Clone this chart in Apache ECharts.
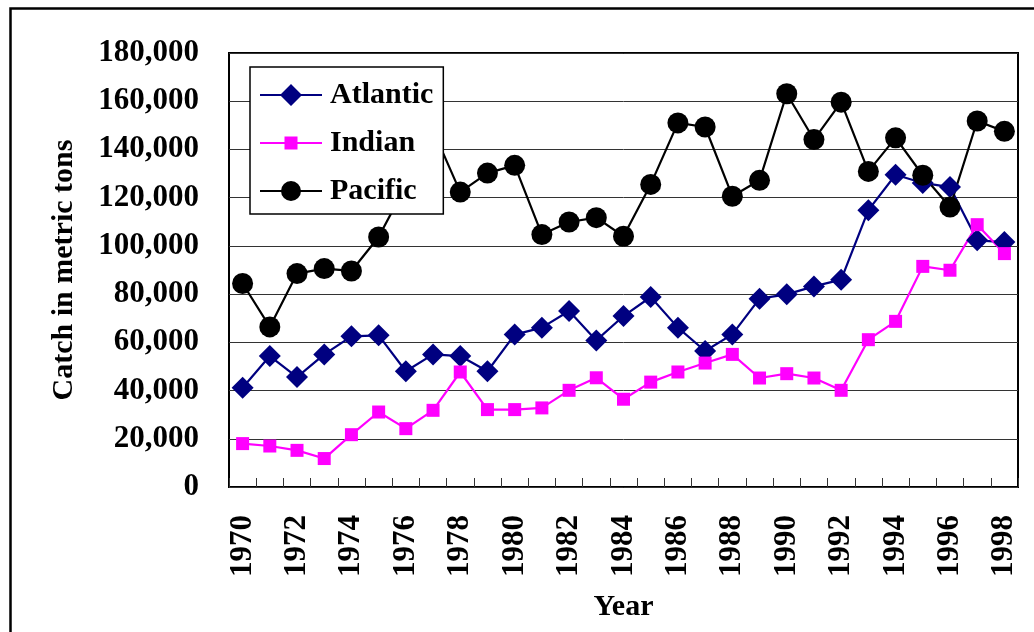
<!DOCTYPE html>
<html>
<head>
<meta charset="utf-8">
<script src="https://cdn.jsdelivr.net/npm/echarts@6/dist/echarts.min.js"></script>
<style>
html,body{margin:0;padding:0;background:#fff;}
#chart{width:1034px;height:632px;}
</style>
</head>
<body>
<div id="chart"></div>
<script>
const years = ['1970','1971','1972','1973','1974','1975','1976','1977','1978','1979','1980','1981','1982','1983','1984','1985','1986','1987','1988','1989','1990','1991','1992','1993','1994','1995','1996','1997','1998'];
const atlantic = [41200,54300,45600,55000,62500,62900,48000,55000,54300,48000,63200,66100,73000,60800,70900,78800,66100,56400,63300,78100,79900,83200,86000,114800,129500,126100,124400,102300,101600];
const indian = [18000,17000,15200,11800,21700,31100,24200,31800,47700,32100,32100,32800,40100,45300,36400,43500,47700,51400,55000,45200,47000,45200,40100,61100,68700,91500,89900,108800,96800];
const pacific = [84400,66400,88500,90600,89600,103700,125000,148000,122300,130200,133400,104700,109900,111700,104000,125500,151000,149300,120600,127200,163100,144100,159600,130900,144800,129300,116100,151800,147500];
const yTicks = [0,20000,40000,60000,80000,100000,120000,140000,160000,180000];

const FONT = '"Liberation Serif", "Times New Roman", serif';
const chart = echarts.init(document.getElementById('chart'));

const iconAtl = 'path://M0,11 L62,11 L62,13 L0,13 Z M31,1 L42,12 L31,23 L20,12 Z';
const iconInd = 'path://M0,5.5 L62,5.5 L62,7.5 L0,7.5 Z M24.5,0 L37.5,0 L37.5,13 L24.5,13 Z';
const iconPac = 'path://M0,9 L62,9 L62,11 L0,11 Z M21,10 A10,10 0 1,1 41,10 A10,10 0 1,1 21,10 Z';

chart.setOption({
  animation: false,
  backgroundColor: '#fff',
  graphic: [{
    type: 'rect', left: 8, top: 6, z: -10, silent: true,
    shape: {x: 0, y: 0, width: 1060, height: 660},
    style: {fill: 'none', stroke: '#000', lineWidth: 2.5}
  }],
  grid: {
    left: 229, top: 53, right: 16, bottom: 145,
    show: true, borderColor: '#000', borderWidth: 2, backgroundColor: 'transparent'
  },
  legend: {
    orient: 'vertical', left: 250, top: 67,
    backgroundColor: '#fff', borderColor: '#000', borderWidth: 1.5,
    padding: [13, 10, 8, 10],
    itemWidth: 62, itemHeight: 24, itemGap: 18,
    textStyle: {fontFamily: FONT, fontWeight: 'bold', fontSize: 30, color: '#000', lineHeight: 30, padding: [0, 0, 0, 3]},
    data: [
      {name: 'Atlantic', icon: iconAtl},
      {name: 'Indian', icon: iconInd},
      {name: 'Pacific', icon: iconPac}
    ]
  },
  xAxis: {
    type: 'category', data: years, boundaryGap: true,
    name: 'Year', nameLocation: 'middle', nameGap: 105,
    nameTextStyle: {fontFamily: FONT, fontWeight: 'bold', fontSize: 30, color: '#000'},
    axisLine: {show: false},
    axisTick: {show: true, inside: true, length: 9, interval: 0, lineStyle: {color: '#333', width: 1}},
    axisLabel: {interval: 1, rotate: 90, margin: 28, fontFamily: FONT, fontWeight: 'bold', fontSize: 31, color: '#000'},
    splitLine: {show: false}
  },
  yAxis: {
    type: 'value', min: 0, max: 180000, interval: 20000,
    name: 'Catch in metric tons', nameLocation: 'middle', nameGap: 150, nameRotate: 90,
    nameTextStyle: {fontFamily: FONT, fontWeight: 'bold', fontSize: 30, color: '#000'},
    axisLine: {show: false},
    axisTick: {show: false},
    axisLabel: {margin: 30, fontFamily: FONT, fontWeight: 'bold', fontSize: 31, color: '#000',
      formatter: v => yTicks.indexOf(v) >= 0 ? v.toLocaleString('en-US') : ''},
    splitLine: {show: true, lineStyle: {color: '#333', width: 1}}
  },
  series: [
    {name: 'Atlantic', type: 'line', data: atlantic, symbol: 'diamond', symbolSize: 22,
     showSymbol: true, showAllSymbol: true,
     itemStyle: {color: '#000080'}, lineStyle: {color: '#000080', width: 2.2}},
    {name: 'Indian', type: 'line', data: indian, symbol: 'rect', symbolSize: 13,
     showSymbol: true, showAllSymbol: true,
     itemStyle: {color: '#ff00ff'}, lineStyle: {color: '#ff00ff', width: 2.2}},
    {name: 'Pacific', type: 'line', data: pacific, symbol: 'circle', symbolSize: 21,
     showSymbol: true, showAllSymbol: true,
     itemStyle: {color: '#000'}, lineStyle: {color: '#000', width: 2.2}}
  ]
});
</script>
</body>
</html>
